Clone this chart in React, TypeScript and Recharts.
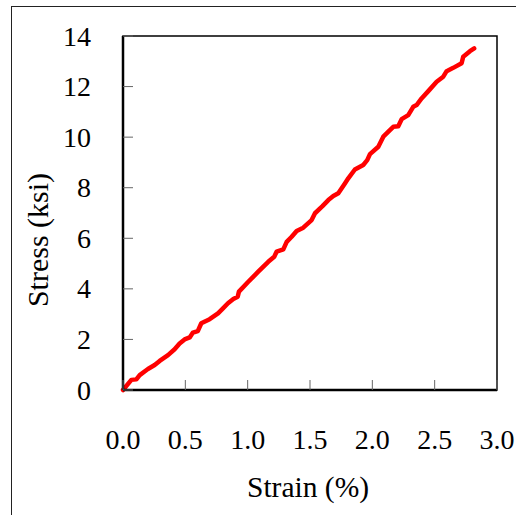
import React from 'react';
import { LineChart, Line, XAxis, YAxis, ReferenceArea } from 'recharts';

// strain (%) and stress (ksi)
const strain = [
  0, 0.067, 0.107, 0.134, 0.2, 0.254, 0.294, 0.361, 0.414, 0.454, 0.494, 0.535, 0.561, 0.6, 0.628, 0.695,
  0.762, 0.802, 0.842, 0.885, 0.92, 0.93, 1.005, 1.085, 1.165, 1.213, 1.232, 1.286, 1.313, 1.353, 1.393,
  1.446, 1.513, 1.54, 1.6, 1.647, 1.687, 1.727, 1.78, 1.807, 1.86, 1.927, 1.959, 1.981, 2.048, 2.088,
  2.141, 2.168, 2.208, 2.235, 2.288, 2.328, 2.355, 2.395, 2.449, 2.516, 2.569, 2.596, 2.649, 2.716, 2.729,
  2.783, 2.817,
];
const stress = [
  0, 0.4, 0.42, 0.59, 0.83, 0.99, 1.15, 1.38, 1.61, 1.84, 2.0, 2.08, 2.27, 2.33, 2.64, 2.8,
  3.03, 3.23, 3.43, 3.6, 3.69, 3.89, 4.28, 4.68, 5.07, 5.27, 5.47, 5.56, 5.86, 6.06, 6.29,
  6.42, 6.72, 6.99, 7.27, 7.51, 7.67, 7.78, 8.17, 8.37, 8.72, 8.9, 9.09, 9.33, 9.62, 10.02,
  10.28, 10.41, 10.43, 10.71, 10.87, 11.2, 11.27, 11.53, 11.82, 12.19, 12.39, 12.61, 12.74, 12.92, 13.18,
  13.4, 13.51,
];

const xTicks = [0, 0.5, 1, 1.5, 2, 2.5, 3];
const yTicks = [0, 2, 4, 6, 8, 10, 12, 14];

const data = strain.map((s, i) => ({ strain: s, stress: stress[i] }));

const FONT = '"Liberation Serif", "Times New Roman", serif';
const TICK_LEN = 10;
const textStyle = { fontFamily: FONT };

const YTick = (props: any) => {
  const { x, y, payload } = props;
  return (
    <g>
      <line x1={x} y1={y} x2={x + TICK_LEN} y2={y} stroke="#666" strokeWidth={1} />
      <text x={x - 32} y={y} textAnchor="end" dominantBaseline="central" style={textStyle} fontSize={28} fill="#000">
        {payload.value}
      </text>
    </g>
  );
};

const XTick = (props: any) => {
  const { x, y, payload } = props;
  return (
    <g>
      <line x1={x} y1={y} x2={x} y2={y - TICK_LEN} stroke="#666" strokeWidth={1} />
      <text x={x} y={y + 49} textAnchor="middle" dominantBaseline="central" style={textStyle} fontSize={28} fill="#000">
        {Number(payload.value).toFixed(1)}
      </text>
    </g>
  );
};

export default function App() {
  return (
    <div style={{ position: 'absolute', left: 0, top: 0, width: 516, height: 515, background: '#fff', fontFamily: FONT }}>
      <div
        style={{
          position: 'absolute',
          left: 11,
          top: 6,
          width: 516 - 11,
          height: 515 - 6,
          borderLeft: '1.5px solid #222',
          borderTop: '1.5px solid #222',
          boxSizing: 'border-box',
        }}
      />
      <LineChart
        width={516}
        height={515}
        data={data}
        margin={{ top: 36, right: 19, bottom: 95, left: 63 }}
        style={{ position: 'absolute', left: 0, top: 0 }}
      >
        <ReferenceArea x1={0} x2={3} y1={0} y2={14} fill="none" stroke="#000" strokeWidth={1.5} />
        <XAxis
          dataKey="strain"
          type="number"
          domain={[0, 3]}
          ticks={xTicks}
          tickSize={0}
          tickMargin={0}
          tickLine={false}
          tick={<XTick />}
          axisLine={{ stroke: '#000', strokeWidth: 2.5 }}
          height={30}
          interval={0}
        />
        <YAxis
          type="number"
          domain={[0, 14]}
          ticks={yTicks}
          tickSize={0}
          tickMargin={0}
          tickLine={false}
          tick={<YTick />}
          axisLine={{ stroke: '#000', strokeWidth: 2.5 }}
          width={60}
          interval={0}
        />
        <Line
          type="linear"
          dataKey="stress"
          stroke="#ff0000"
          strokeWidth={4.5}
          dot={false}
          isAnimationActive={false}
          strokeLinejoin="round"
          strokeLinecap="round"
        />
      </LineChart>
      <div
        style={{
          position: 'absolute',
          left: 38,
          top: 240,
          transform: 'translate(-50%, -50%) rotate(-90deg)',
          fontSize: 30,
          lineHeight: 1,
          whiteSpace: 'nowrap',
          color: '#000',
        }}
      >
        Stress (ksi)
      </div>
      <div
        style={{
          position: 'absolute',
          left: 308,
          top: 488,
          transform: 'translate(-50%, -50%)',
          fontSize: 29.5,
          lineHeight: 1,
          whiteSpace: 'nowrap',
          color: '#000',
        }}
      >
        Strain (%)
      </div>
    </div>
  );
}
